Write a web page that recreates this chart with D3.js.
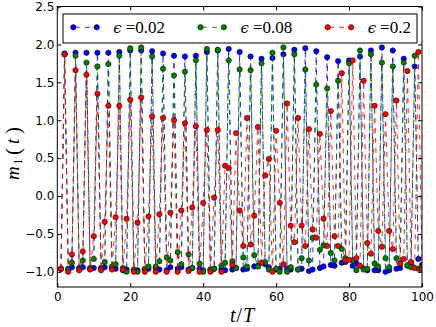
<!DOCTYPE html>
<html>
<head>
<meta charset="utf-8">
<script src="https://d3js.org/d3.v7.min.js"></script>
<style>
  body { margin: 0; background: #fff; }
  svg { display: block; }
  .tick text { font-family: "DejaVu Sans", sans-serif; font-size: 12px; fill: #000; }
</style>
</head>
<body>
<div id="chart"></div>
<script>
// t/T values (integer periods)
const times = d3.range(1, 101);

// m_1(t) for eps = 0.02
const blueVals = [
  -0.96, 1.88, -0.96, -0.94, 1.89, -0.95, -0.94, 1.89, -0.96, -0.95,
  1.89, -0.95, -0.94, 1.89, -0.95, -0.96, 1.90, -0.98, -0.97, 1.92,
  -0.98, -0.98, 1.92, -0.97, -0.96, 1.91, -0.95, -0.97, 1.88, -0.98,
  -0.94, 1.85, -0.96, -0.94, 1.84, -0.97, -0.95, 1.85, -0.96, -0.98,
  1.90, -0.97, -0.96, 1.92, -0.97, -0.98, 1.94, -0.97, -0.95, 1.90,
  -0.97, -0.96, 1.84, -0.93, -0.92, 1.81, -0.90, -0.94, 1.82, -0.97,
  -0.96, 1.87, -0.96, -0.97, 1.93, -0.97, -0.96, 1.95, -0.99, -0.97,
  1.91, -0.95, -0.93, 1.83, -0.91, -0.92, 1.78, -0.88, -0.87, 1.79,
  -0.92, -0.89, 1.84, -0.96, -0.98, 1.92, -0.98, -0.98, 1.96, -1.00,
  -0.98, 1.92, -0.96, -0.95, 1.81, -0.92, -0.89, 1.71, -0.83, -0.91
];

// m_1(t) for eps = 0.08
const greenVals = [
  -0.96, 1.87, -0.97, -0.88, 1.85, -0.97, -0.85, 1.76, -0.95, -0.83,
  1.71, -0.96, -0.87, 1.74, -0.93, -0.90, 1.85, -0.95, -1.00, 1.95,
  -0.97, -1.00, 1.96, -0.96, -0.93, 1.84, -0.93, -0.86, 1.68, -0.81,
  -0.85, 1.59, -0.74, -0.90, 1.64, -0.77, -0.95, 1.79, -0.89, -1.00,
  1.94, -0.97, -0.96, 1.93, -0.92, -0.88, 1.79, -0.86, -0.95, 1.67,
  -0.81, -0.93, 1.66, -0.78, -0.93, 1.75, -0.87, -0.97, 1.89, -0.96,
  -1.00, 1.96, -1.00, -0.94, 1.87, -0.97, -0.82, 1.67, -0.85, -0.55,
  1.47, -0.71, -0.65, 1.42, -0.75, -0.85, 1.52, -0.70, -0.82, 1.75,
  -0.85, -0.98, 1.92, -0.97, -0.96, 1.87, -0.89, -0.93, 1.76, -0.82,
  -0.94, 1.71, -0.82, -0.89, 1.76, -0.91, -0.94, 1.85, -0.96, -0.94
];

// m_1(t) for eps = 0.2
const redVals = [
  -0.96, 1.87, -1.00, -0.77, 1.66, -0.98, -0.73, 1.60, -0.97, -0.53,
  1.35, -0.98, -0.34, 1.19, -0.97, -0.28, 1.19, -0.97, -0.30, 1.27,
  -1.00, -0.35, 1.30, -1.00, -0.27, 1.05, -1.00, -0.24, 1.03, -1.00,
  -0.22, 1.00, -1.00, -0.19, 0.96, -0.99, -0.15, 0.92, -1.00, -0.09,
  0.87, -1.00, -0.02, 0.87, -1.00, 0.40, 0.37, -0.91, 0.83, -0.19,
  -0.66, 1.03, -0.64, -0.26, 0.91, -0.88, 0.27, 0.49, -1.00, 0.86,
  -0.09, -0.90, 1.22, -0.39, -0.61, 1.03, -0.39, -0.66, 0.88, -0.44,
  -0.55, 0.82, -0.30, -0.66, 1.12, -0.53, -0.66, 1.62, -0.85, -0.84,
  1.79, -0.82, -0.92, 1.52, -0.62, -0.76, 1.19, -0.46, -0.67, 1.08,
  -0.46, -0.70, 1.26, -0.89, -0.83, 1.65, -0.87, -0.95, 1.90, -0.97
];

const seriesNames = ["0.02", "0.08", "0.2"];
const seriesColors = ["#0000ff", "#008000", "#ff0000"];
const xTicks = [0, 20, 40, 60, 80, 100];
const yTicks = [-1.0, -0.5, 0.0, 0.5, 1.0, 1.5, 2.0, 2.5];

const W = 436, H = 327;
const margin = {top: 6.5, right: 14, bottom: 40, left: 57.3};
const width = W - margin.left - margin.right,
    height = H - margin.top - margin.bottom;

const svg = d3.select("#chart").append("svg")
    .attr("width", W)
    .attr("height", H);

const g = svg.append("g")
    .attr("transform", `translate(${margin.left},${margin.top})`);

const x = d3.scaleLinear().domain([0, 100]).range([0, width]);
const y = d3.scaleLinear().domain([-1.2, 2.5]).range([height, 0]);

g.append("clipPath").attr("id", "clip")
  .append("rect").attr("width", width).attr("height", height);

const plot = g.append("g").attr("clip-path", "url(#clip)");

const allSeries = [blueVals, greenVals, redVals].map((vals, i) => ({
    name: seriesNames[i],
    color: seriesColors[i],
    points: times.map((t, j) => ({t: t, v: vals[j]}))
}));

const line = d3.line()
    .x(d => x(d.t))
    .y(d => y(d.v));

allSeries.forEach(s => {
    const sg = plot.append("g");
    sg.append("path")
        .datum(s.points)
        .attr("fill", "none")
        .attr("stroke", s.color)
        .attr("stroke-width", 0.85)
        .attr("stroke-dasharray", "5,5")
        .attr("d", line);
    sg.selectAll("circle")
        .data(s.points)
        .enter().append("circle")
        .attr("cx", d => x(d.t))
        .attr("cy", d => y(d.v))
        .attr("r", 2.7)
        .attr("fill", s.color)
        .attr("stroke", "#000")
        .attr("stroke-width", 0.5);
});

// axes: inward ticks on all four sides
const fmt = d => d.toFixed(1).replace("-", "\u2212");
const xb = g.append("g")
    .attr("transform", `translate(0,${height})`)
    .call(d3.axisBottom(x).tickValues(xTicks).tickFormat(d => String(d))
        .tickSizeInner(-4).tickSizeOuter(0).tickPadding(5));
const yl = g.append("g")
    .call(d3.axisLeft(y).tickValues(yTicks).tickFormat(fmt)
        .tickSizeInner(-4).tickSizeOuter(0).tickPadding(3));
const xt = g.append("g")
    .call(d3.axisTop(x).tickValues(xTicks).tickFormat(() => "")
        .tickSizeInner(-4).tickSizeOuter(0));
const yr = g.append("g")
    .attr("transform", `translate(${width},0)`)
    .call(d3.axisRight(y).tickValues(yTicks).tickFormat(() => "")
        .tickSizeInner(-4).tickSizeOuter(0));
[xb, yl, xt, yr].forEach(a => {
    a.select(".domain").remove();
    a.selectAll(".tick line").attr("stroke", "#000");
});

// frame
g.append("rect")
    .attr("width", width)
    .attr("height", height)
    .attr("fill", "none")
    .attr("stroke", "#000")
    .attr("stroke-width", 1);

// legend
const legend = g.append("g");
legend.append("rect")
    .attr("x", 63 - margin.left)
    .attr("y", 14 - margin.top)
    .attr("width", 354)
    .attr("height", 29)
    .attr("fill", "#fff")
    .attr("stroke", "#000")
    .attr("stroke-width", 1);

const legendX = [73.3, 200.5, 327.7];
allSeries.forEach((s, i) => {
    const lx = legendX[i] - margin.left;
    const ly = 27.3 - margin.top;
    legend.append("line")
        .attr("x1", lx).attr("x2", lx + 23.4)
        .attr("y1", ly).attr("y2", ly)
        .attr("stroke", s.color)
        .attr("stroke-width", 0.85)
        .attr("stroke-dasharray", "5,5")
        .attr("stroke-dashoffset", -1.5);
    [lx, lx + 23.4].forEach(cx => {
        legend.append("circle")
            .attr("cx", cx).attr("cy", ly).attr("r", 2.7)
            .attr("fill", s.color)
            .attr("stroke", "#000").attr("stroke-width", 0.5);
    });
    const txt = legend.append("text")
        .attr("x", lx + 40)
        .attr("y", 32.8 - margin.top)
        .style("font-family", "'Liberation Serif', serif")
        .style("font-size", "17px");
    txt.append("tspan")
        .style("font-family", "'DejaVu Serif', serif")
        .style("font-style", "italic")
        .style("font-size", "15px")
        .text("ϵ");
    txt.append("tspan").attr("dx", 4).text("=" + s.name);
});

// y label m_1(t)
const ylab = svg.append("g")
    .attr("transform", "translate(18.5,147) rotate(-90)")
    .style("font-family", "'Liberation Serif', serif");
ylab.append("text").attr("x", -33).attr("y", 0)
    .style("font-style", "italic").style("font-size", "19px").text("m");
ylab.append("text").attr("x", -18).attr("y", 3.5)
    .style("font-size", "13px").text("1");
ylab.append("text").attr("x", -8).attr("y", 1)
    .style("font-size", "21px").text("(");
ylab.append("text").attr("x", 3).attr("y", 0)
    .style("font-style", "italic").style("font-size", "19px").text("t");
ylab.append("text").attr("x", 13).attr("y", 1)
    .style("font-size", "21px").text(")");

// x label t/T
const xlab = svg.append("text")
    .attr("x", 242)
    .attr("y", 322)
    .attr("text-anchor", "middle")
    .style("font-family", "'Liberation Serif', serif")
    .style("font-size", "20px");
xlab.append("tspan").style("font-style", "italic").text("t");
xlab.append("tspan").attr("dx", 1).text("/");
xlab.append("tspan").attr("dx", 1).style("font-style", "italic").text("T");
</script>
</body>
</html>
